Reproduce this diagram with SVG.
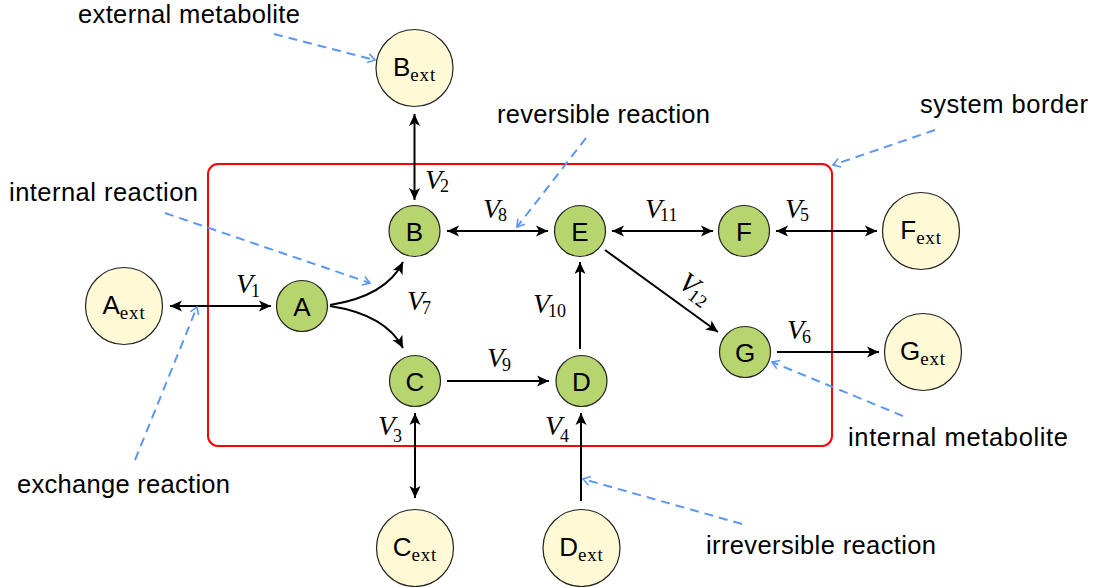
<svg xmlns="http://www.w3.org/2000/svg" width="1097" height="587" viewBox="0 0 1097 587">
<style>
.int{fill:#b7d56f;stroke:#222;stroke-width:1.2}
.ext{fill:#fff9d6;stroke:#222;stroke-width:1.2}
.nl{font-family:"Liberation Sans",Arial,sans-serif;font-size:26px;fill:#000;text-anchor:middle}
.sub{font-family:"Liberation Serif","Times New Roman",serif;font-size:19px;letter-spacing:0.8px}
.edge{stroke:#000;stroke-width:2;fill:none}
.ann{stroke:#5b97f5;stroke-width:2;fill:none;stroke-dasharray:9 6}
.at{font-family:"Liberation Sans",Arial,sans-serif;font-size:25.5px;fill:#000}
.v{font-family:"Liberation Serif","Times New Roman",serif;font-size:28px;font-style:italic;fill:#000}
.vs{font-style:normal;font-size:18px}
</style>
<defs>
<marker id="ah" markerUnits="userSpaceOnUse" markerWidth="14" markerHeight="12" viewBox="-13 -6 14 12" refX="0" refY="0" orient="auto-start-reverse">
<path d="M-12,-5.5 L0,0 L-12,5.5 L-9,0 z" fill="#000"/>
</marker>
<marker id="bh" markerUnits="userSpaceOnUse" markerWidth="12" markerHeight="12" viewBox="-9 -6 12 12" refX="0" refY="0" orient="auto">
<path d="M-7,-4.5 L0,0 L-7,4.5" fill="none" stroke="#5b97f5" stroke-width="1.6"/>
</marker>
</defs>
<rect x="208" y="164" width="624" height="282" rx="10" fill="none" stroke="#ff0000" stroke-width="2"/>
<g id="connectors">
<line class="edge" x1="170" y1="306" x2="271" y2="306" marker-start="url(#ah)" marker-end="url(#ah)"/>
<line class="edge" x1="414.5" y1="114" x2="414.5" y2="200" marker-start="url(#ah)" marker-end="url(#ah)"/>
<line class="edge" x1="415" y1="413" x2="415" y2="498" marker-start="url(#ah)" marker-end="url(#ah)"/>
<line class="edge" x1="581" y1="501" x2="581" y2="413" marker-end="url(#ah)"/>
<line class="edge" x1="776" y1="231" x2="877" y2="231" marker-start="url(#ah)" marker-end="url(#ah)"/>
<line class="edge" x1="777" y1="352" x2="879" y2="352" marker-end="url(#ah)"/>
<path class="edge" d="M330,305 C362,300 390,288 403,262" marker-end="url(#ah)"/>
<path class="edge" d="M330,306 C362,311 390,323 403,348" marker-end="url(#ah)"/>
<line class="edge" x1="447" y1="231" x2="548" y2="231" marker-start="url(#ah)" marker-end="url(#ah)"/>
<line class="edge" x1="447" y1="381" x2="549" y2="381" marker-end="url(#ah)"/>
<line class="edge" x1="580" y1="349" x2="580" y2="262" marker-end="url(#ah)"/>
<line class="edge" x1="612" y1="231" x2="713" y2="231" marker-start="url(#ah)" marker-end="url(#ah)"/>
<line class="edge" x1="605" y1="250" x2="718" y2="332" marker-end="url(#ah)"/>
<path class="ann" d="M274,34 L375,60" marker-end="url(#bh)"/>
<path class="ann" d="M586,138 L517,227" marker-end="url(#bh)"/>
<path class="ann" d="M935,130 L833,165" marker-end="url(#bh)"/>
<path class="ann" d="M165,213 L370,283" marker-end="url(#bh)"/>
<path class="ann" d="M135,460 L197,307" marker-end="url(#bh)"/>
<path class="ann" d="M903,416 L772,362" marker-end="url(#bh)"/>
<path class="ann" d="M742,524 L583,479" marker-end="url(#bh)"/>
</g>
<g id="labels">
<text class="v" x="236" y="293">V<tspan class="vs" dx="-2" dy="4">1</tspan></text>
<text class="v" x="425" y="189">V<tspan class="vs" dx="-2" dy="3">2</tspan></text>
<text class="v" x="378" y="435">V<tspan class="vs" dx="-2" dy="7">3</tspan></text>
<text class="v" x="545" y="435">V<tspan class="vs" dx="-2" dy="7">4</tspan></text>
<text class="v" x="785" y="218">V<tspan class="vs" dx="-2" dy="3">5</tspan></text>
<text class="v" x="787" y="339">V<tspan class="vs" dx="-2" dy="4">6</tspan></text>
<text class="v" x="407" y="310">V<tspan class="vs" dx="-2" dy="4">7</tspan></text>
<text class="v" x="483" y="218">V<tspan class="vs" dx="-2" dy="3">8</tspan></text>
<text class="v" x="487" y="367">V<tspan class="vs" dx="-2" dy="4">9</tspan></text>
<text class="v" x="533" y="313">V<tspan class="vs" dx="-2" dy="4">10</tspan></text>
<text class="v" x="645" y="218">V<tspan class="vs" dx="-2" dy="3">11</tspan></text>
<text class="v" transform="translate(677,286) rotate(36)">V<tspan class="vs" dx="-2" dy="4">12</tspan></text>
</g>
<g id="annotations">
<text class="at" x="78" y="23" textLength="222">external metabolite</text>
<text class="at" x="497" y="123" textLength="213">reversible reaction</text>
<text class="at" x="920" y="113" textLength="168">system border</text>
<text class="at" x="9" y="201" textLength="189">internal reaction</text>
<text class="at" x="17" y="493" textLength="213">exchange reaction</text>
<text class="at" x="848" y="446" textLength="220">internal metabolite</text>
<text class="at" x="706" y="554" textLength="230">irreversible reaction</text>
</g>
<g id="node-A"><circle class="int" cx="302" cy="306" r="25.5"/><text class="nl" x="302" y="315.5">A</text></g>
<g id="node-B"><circle class="int" cx="414.5" cy="231" r="25.5"/><text class="nl" x="414.5" y="240.5">B</text></g>
<g id="node-C"><circle class="int" cx="415" cy="381" r="25.5"/><text class="nl" x="415" y="390.5">C</text></g>
<g id="node-D"><circle class="int" cx="581.5" cy="381" r="25.5"/><text class="nl" x="581.5" y="390.5">D</text></g>
<g id="node-E"><circle class="int" cx="580" cy="231" r="25.5"/><text class="nl" x="580" y="240.5">E</text></g>
<g id="node-F"><circle class="int" cx="744" cy="231" r="25.5"/><text class="nl" x="744" y="240.5">F</text></g>
<g id="node-G"><circle class="int" cx="745" cy="352" r="25.5"/><text class="nl" x="745" y="361.5">G</text></g>
<g id="node-Aext"><circle class="ext" cx="124" cy="306" r="38.5"/><text class="nl" x="124" y="314">A<tspan class="sub" dy="5">ext</tspan></text></g>
<g id="node-Bext"><circle class="ext" cx="414.5" cy="68" r="38.5"/><text class="nl" x="414.5" y="76">B<tspan class="sub" dy="5">ext</tspan></text></g>
<g id="node-Cext"><circle class="ext" cx="415" cy="548" r="38.5"/><text class="nl" x="415" y="556">C<tspan class="sub" dy="5">ext</tspan></text></g>
<g id="node-Dext"><circle class="ext" cx="581.5" cy="548" r="38.5"/><text class="nl" x="581.5" y="556">D<tspan class="sub" dy="5">ext</tspan></text></g>
<g id="node-Fext"><circle class="ext" cx="921" cy="231" r="38.5"/><text class="nl" x="921" y="239">F<tspan class="sub" dy="5">ext</tspan></text></g>
<g id="node-Gext"><circle class="ext" cx="923" cy="352" r="38.5"/><text class="nl" x="923" y="360">G<tspan class="sub" dy="5">ext</tspan></text></g>
</svg>
